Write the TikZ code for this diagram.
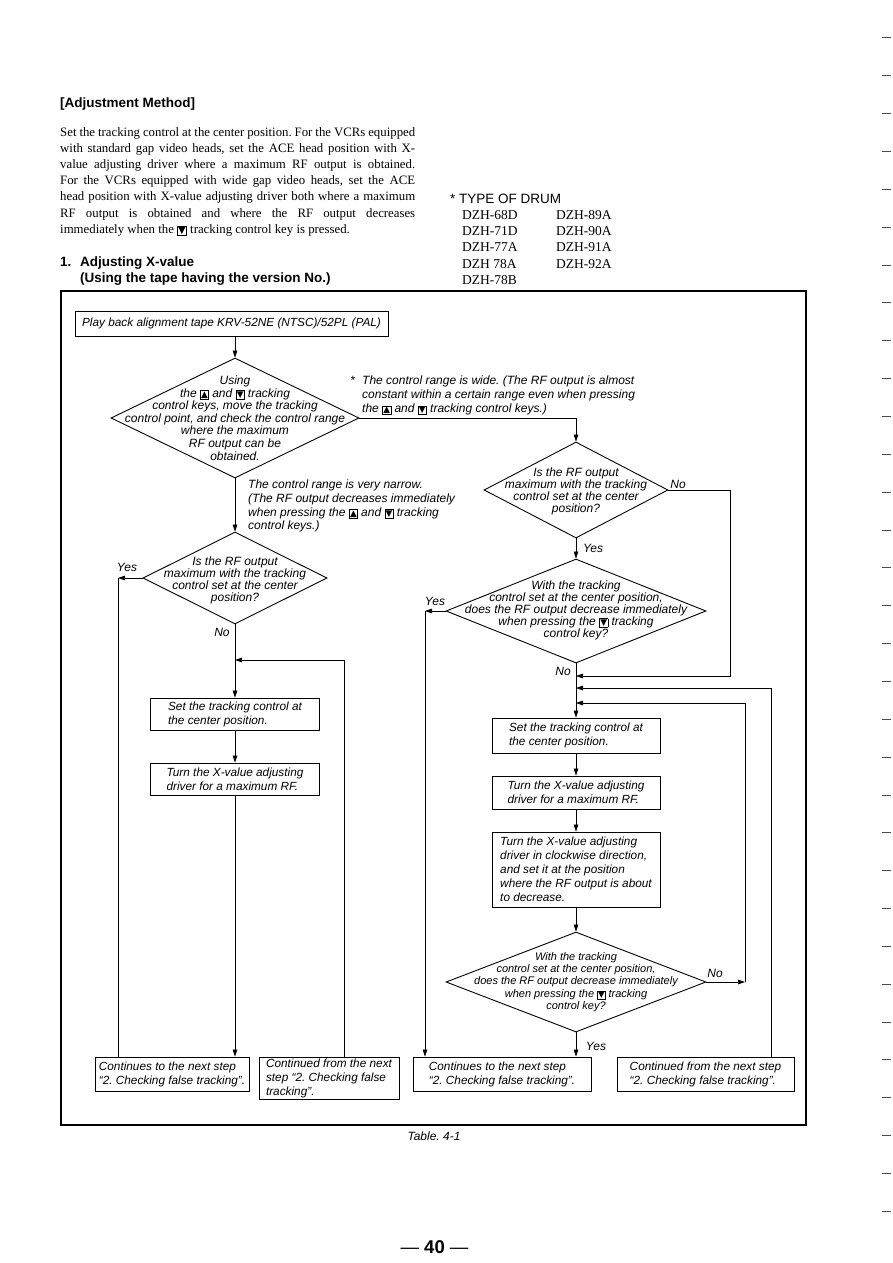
\documentclass[tikz,border=0pt]{standalone}
\usepackage{fontspec}
\setmainfont{Liberation Serif}
\setsansfont{Liberation Sans}
\newfontfamily\symfont{DejaVu Sans}
\usepackage{xcolor}
\usepackage{tikz}
\usetikzlibrary{shapes.geometric,arrows.meta,positioning,calc}

\newcommand{\keybox}[2][8.8]{{\setlength{\fboxsep}{0.5pt}\setlength{\fboxrule}{0.6pt}\fbox{\fontsize{#1}{#1}\selectfont\symfont #2}}}
\newcommand{\upkey}{\keybox{▲}}
\newcommand{\dnkey}{\keybox{▼}}

\begin{document}
\frenchspacing
\hyphenpenalty=10000
\begin{tikzpicture}[x=1pt, y=-1pt,
    box/.style={rectangle, draw, line width=0.9pt, align=left, inner xsep=2pt, inner ysep=0pt,
        font=\sffamily\itshape\fontsize{11.8}{14}\selectfont},
    dmd/.style={diamond, draw, line width=0.9pt, inner sep=0pt},
    qtext/.style={align=center, inner sep=0pt, font=\sffamily\itshape\fontsize{12}{12}\selectfont},
    note/.style={align=left, inner sep=0pt, font=\sffamily\itshape\fontsize{12}{13.6}\selectfont},
    lbl/.style={inner sep=0pt, font=\sffamily\itshape\fontsize{12}{14}\selectfont},
    head/.style={anchor=base west, inner sep=0pt, font=\sffamily\bfseries\fontsize{13.5}{16}\selectfont},
    body/.style={anchor=base west, inner sep=0pt, font=\fontsize{12.8}{16}\selectfont},
    drum/.style={anchor=base west, inner sep=0pt, font=\fontsize{13.5}{16}\selectfont},
    arrow/.style={-{Triangle[length=7pt, width=4.6pt]}, line width=0.7pt},
    line/.style={line width=0.7pt}
]
\useasboundingbox (0,0) rectangle (893,1263);

% Page text
\node[head] (method) at (60,107) {[Adjustment Method]};
\foreach \t [count=\i] in {{Set the tracking control at the center position. For the VCRs equipped},
    {with standard gap video heads, set the ACE head position with X-},
    {value adjusting driver where a maximum RF output is obtained.},
    {For the VCRs equipped with wide gap video heads, set the ACE},
    {head position with X-value adjusting driver both where a maximum},
    {RF output is obtained and where the RF output decreases}}
  \node[body] (par\i) at (60,119.8+16.2*\i) {\makebox[355pt][s]{\t}};
\node[body] (par7) at (60,233.2) {immediately when the \keybox[10]{▼} tracking control key is pressed.};

\node[head] (num) at (60,266) {1.};
\node[head] (step) at (80,266) {Adjusting X-value};
\node[head] (tape) at (80,282.5) {(Using the tape having the version No.)};

\node[drum, font=\sffamily\fontsize{13.5}{16}\selectfont] (type) at (450,203) {* TYPE OF DRUM};
\foreach \a/\b [count=\i] in {DZH-68D/DZH-89A, DZH-71D/DZH-90A, DZH-77A/DZH-91A, DZH 78A/DZH-92A} {
  \node[drum] (dl\i) at (462,203+16.3*\i) {\a};
  \node[drum] (dr\i) at (556,203+16.3*\i) {\b};
}
\node[drum] (dl5) at (462,284.5) {DZH-78B};

% Frame
\draw[line width=1.1pt] (61,291) rectangle (806,1125);

% Flow boxes
\node[box, minimum width=313pt, minimum height=25pt] (play) at (231.5,323.5)
  {Play back alignment tape KRV-52NE (NTSC)/52PL (PAL)};

\node[dmd, minimum width=248pt, minimum height=120pt] (d1) at (235,418) {};
\node[qtext, font=\sffamily\itshape\fontsize{12}{12.6}\selectfont] (d1t) at (235,418)
  {Using\\the \upkey{} and \dnkey{} tracking\\control keys, move the tracking\\control point, and check the control range\\where the maximum\\RF output can be\\obtained.};

\node[dmd, minimum width=184pt, minimum height=96pt] (d2) at (576,490) {};
\node[qtext] (d2t) at (576,491)
  {Is the RF output\\maximum with the tracking\\control set at the center\\position?};

\node[dmd, minimum width=184pt, minimum height=92pt] (d3) at (235,578) {};
\node[qtext] (d3t) at (235,580)
  {Is the RF output\\maximum with the tracking\\control set at the center\\position?};

\node[dmd, minimum width=260pt, minimum height=104pt] (d4) at (576,611) {};
\node[qtext] (d4t) at (576,610)
  {With the tracking\\control set at the center position,\\does the RF output decrease immediately\\when pressing the \dnkey{} tracking\\control key?};

\node[box, minimum width=169pt, minimum height=32pt] (lset) at (235,714)
  {Set the tracking control at\\the center position.};
\node[box, minimum width=169pt, minimum height=32pt] (lturn) at (235,779)
  {Turn the X-value adjusting\\driver for a maximum RF.};

\node[box, minimum width=168pt, minimum height=35pt] (rset) at (576,735.5)
  {Set the tracking control at\\the center position.};
\node[box, minimum width=168pt, minimum height=33pt] (rturn) at (576,792.5)
  {Turn the X-value adjusting\\driver for a maximum RF.};
\node[box, minimum width=168pt, minimum height=75pt] (rcw) at (576,869.5)
  {Turn the X-value adjusting\\driver in clockwise direction,\\and set it at the position\\where the RF output is about\\to decrease.};

\node[dmd, minimum width=260pt, minimum height=100pt] (d5) at (576,982) {};
\node[qtext, font=\sffamily\itshape\fontsize{11}{12.2}\selectfont] (d5t) at (576,982)
  {With the tracking\\control set at the center position,\\does the RF output decrease immediately\\when pressing the \keybox[8]{▼} tracking\\control key?};

\node[box, minimum width=154pt, minimum height=34pt] (next1) at (172,1074)
  {Continues to the next step\\“2. Checking false tracking”.};
\node[box, minimum width=140pt, minimum height=42pt] (from1) at (329,1078)
  {Continued from the next\\step “2. Checking false\\tracking”.};
\node[box, minimum width=178pt, minimum height=34pt] (next2) at (502,1074)
  {Continues to the next step\\“2. Checking false tracking”.};
\node[box, minimum width=177pt, minimum height=34pt] (from2) at (705.5,1074)
  {Continued from the next step\\“2. Checking false tracking”.};

% Notes
\node[lbl, anchor=base west] (star) at (350,384) {*};
\node[note, anchor=north west, font=\sffamily\itshape\fontsize{12}{14}\selectfont] (wide) at (362,376)
  {The control range is wide. (The RF output is almost\\constant within a certain range even when pressing\\the \upkey{} and \dnkey{} tracking control keys.)};
\node[note, anchor=north west] (narrow) at (248,480)
  {The control range is very narrow.\\(The RF output decreases immediately\\when pressing the \upkey{} and \dnkey{} tracking\\control keys.)};

% Joins
\coordinate (m0) at (235,660);
\coordinate (m1) at (576,676);
\coordinate (m2) at (576,688);
\coordinate (m3) at (576,703);
\coordinate (y1) at (118,578);
\coordinate (y2) at (425,611);
\coordinate (n5) at (745,982);

% Arrows
\draw[arrow] (play.south -| d1) -- (d1.north);
\draw[arrow] (d1) -- (d3);
\draw[arrow] (d1.east) -| (d2.north);
\draw[arrow] (d2) -- (d4);
\draw[arrow] (d2.east) -- ++(62,0) |- (m1);
\draw[arrow] (d3.west) -- (y1);
\draw[line] (y1) -- (y1 |- next1.north);
\draw[arrow] (d3) -- (lset);
\draw[arrow] ([xshift=15pt]from1.north) |- (m0);
\draw[arrow] (lset) -- (lturn);
\draw[arrow] (lturn.south) -- (lturn.south |- next1.north);
\draw[arrow] (d4) -- (rset);
\draw[arrow] (d4.west) -- (y2);
\draw[arrow] (y2) -- (y2 |- next2.north);
\draw[arrow] ([xshift=65.5pt]from2.north) |- (m2);
\draw[arrow] (rset) -- (rturn);
\draw[arrow] (rturn) -- (rcw);
\draw[arrow] (rcw) -- (d5);
\draw[arrow] (d5.east) -- (n5);
\draw[arrow] (n5) |- (m3);
\draw[arrow] (d5.south) -- (d5.south |- next2.north);

% Labels
\node[lbl] (no2) at (678,484) {No};
\node[lbl] (yes2) at (593,548) {Yes};
\node[lbl] (yes4) at (435,601) {Yes};
\node[lbl] (no4) at (563,671) {No};
\node[lbl] (yes3) at (127,567) {Yes};
\node[lbl] (no3) at (222,632) {No};
\node[lbl] (no5) at (715,973) {No};
\node[lbl] (yes5) at (596,1046) {Yes};

\node[lbl] (tab) at (434,1136) {Table. 4-1};
\node[inner sep=0pt, font=\sffamily\fontsize{18.5}{20}\selectfont] (page) at (434.5,1247) {— \textbf{40} —};

% Edge marks
\foreach \k in {0,...,31}
  \draw[line width=0.6pt, black!70] (882,37.8+37.85*\k) -- (891,37.8+37.85*\k);
\end{tikzpicture}
\end{document}
